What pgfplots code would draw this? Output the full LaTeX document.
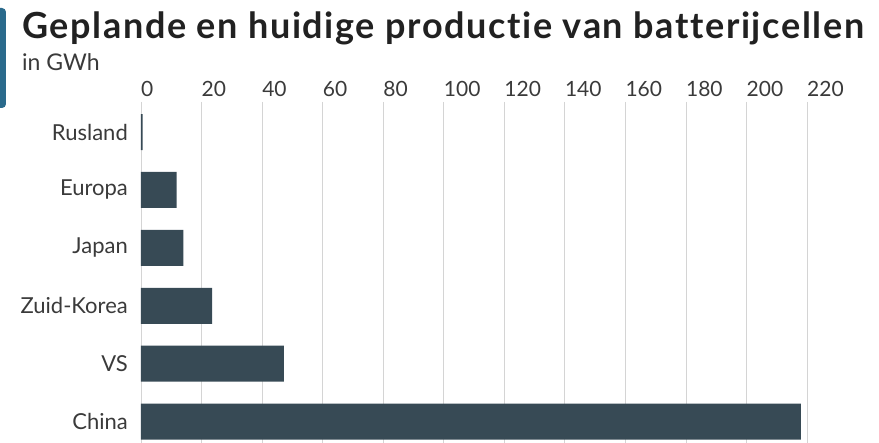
\documentclass[border=0pt]{standalone}
\usepackage{pgfplots}
\pgfplotsset{compat=1.18}
\usepackage{fontspec}
\setmainfont{Lato}[Ligatures=NoCommon]
\newfontfamily\titlefont{Lato}[Ligatures=NoCommon, LetterSpace=4.5, BoldFont={Lato Bold}]
\definecolor{barcol}{HTML}{374A55}
\definecolor{gridcol}{HTML}{D4D4D4}
\definecolor{txtcol}{HTML}{3A3A3A}
\definecolor{accent}{HTML}{2A6A8C}
\begin{document}
\begin{tikzpicture}[x=1pt,y=1pt]
\useasboundingbox (-141,0) rectangle (738,443);
% decorative strip on the left
\fill[accent, rounded corners=4pt] (-150,335) rectangle (-135,435);
\node[anchor=base west, inner sep=0, text=black!87] at (-119,404) {\titlefont\fontsize{36}{40}\selectfont\bfseries Geplande en huidige productie van batterijcellen};
\node[anchor=base west, inner sep=0, text=txtcol] at (-119,372) {\fontsize{23}{26}\selectfont in GWh};
\begin{axis}[
	at={(0,0)}, anchor=south west,
	scale only axis,
	width=666pt, height=341pt,
	xbar, bar width=36pt,
	xmin=0, xmax=220,
	ymin=-0.52, ymax=5.37,
	y dir=reverse,
	axis line style={draw=none},
	major tick length=0pt,
	xtick={0,20,...,220},
	xticklabel pos=upper,
	xmajorgrids, grid style={gridcol, line width=0.8pt},
	ytick={0,...,5},
	yticklabels={Rusland,Europa,Japan,Zuid-Korea,VS,China},
	xticklabel style={anchor=south west, inner sep=0pt, yshift=5pt, text=txtcol, font=\fontsize{21}{24}\selectfont},
	yticklabel style={anchor=east, inner sep=0pt, xshift=-13pt, text=txtcol, font=\fontsize{22}{24}\selectfont},
	/pgf/number format/assume math mode=true,
	clip=false,
]
\addplot[fill=barcol, draw=none] coordinates {(0.5,0) (11.8,1) (14,2) (23.5,3) (47.2,4) (218,5)};
\end{axis}
\end{tikzpicture}
\end{document}
